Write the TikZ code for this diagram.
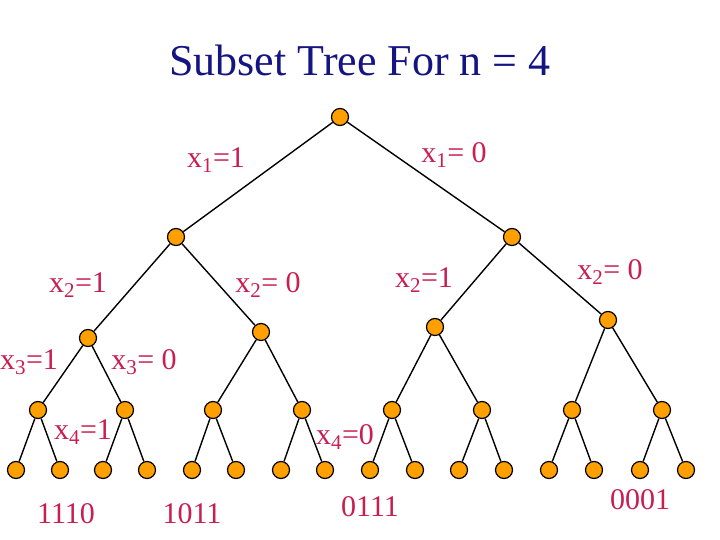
\documentclass[tikz,border=0pt]{standalone}
\usepackage{fontspec}
\setmainfont{Liberation Serif}
\definecolor{labred}{RGB}{200,30,80}
\definecolor{titleblue}{RGB}{20,20,130}
\definecolor{dotorange}{RGB}{255,160,0}
\tikzstyle{dot} = [circle, draw=black, fill=dotorange, line width=1.2pt, minimum size=17pt, inner sep=0pt]
\tikzstyle{lab} = [text=labred, font=\fontsize{30}{30}\selectfont]
\tikzstyle{edge} = [line width=1.4pt]

\begin{document}
\begin{tikzpicture}[x=1pt, y=-1pt]
\useasboundingbox (0,0) rectangle (720,540);
\node[text=titleblue, font=\fontsize{44}{44}\selectfont] (title) at (360,60) {Subset Tree For n = 4};
% tree levels
\node (r) [dot] at (340,117) {};
\node (a1) [dot] at (176,237) {};
\node (a0) [dot] at (512,237) {};
\node (b11) [dot] at (88,338) {};
\node (b10) [dot] at (261,332) {};
\node (b01) [dot] at (435,327) {};
\node (b00) [dot] at (608,320) {};
\foreach \i/\x in {1/38,2/125,3/213,4/302,5/392,6/482,7/572,8/662}
  \node (c\i) [dot] at (\x,410) {};
\foreach \i/\x in {1/16,2/60,3/103,4/147,5/192,6/236,7/281,8/325,9/370,10/415,11/459,12/504,13/549,14/594,15/640,16/686}
  \node (d\i) [dot] at (\x,470) {};
\draw [edge] (r) -- (a1);
\draw [edge] (r) -- (a0);
\draw [edge] (a1) -- (b11);
\draw [edge] (a1) -- (b10);
\draw [edge] (a0) -- (b01);
\draw [edge] (a0) -- (b00);
\draw [edge] (b11) -- (c1); \draw [edge] (b11) -- (c2);
\draw [edge] (b10) -- (c3); \draw [edge] (b10) -- (c4);
\draw [edge] (b01) -- (c5); \draw [edge] (b01) -- (c6);
\draw [edge] (b00) -- (c7); \draw [edge] (b00) -- (c8);
\foreach \i [evaluate=\i as \j using int(2*\i-1), evaluate=\i as \k using int(2*\i)] in {1,...,8} {
  \draw [edge] (c\i) -- (d\j);
  \draw [edge] (c\i) -- (d\k);
}
% labels
\node (l1a) [lab] at (216,160) {x\textsubscript{1}=1};
\node (l1b) [lab] at (454,155) {x\textsubscript{1}= 0};
\node (l2a) [lab] at (78,285) {x\textsubscript{2}=1};
\node (l2b) [lab] at (268,285) {x\textsubscript{2}= 0};
\node (l2c) [lab] at (424,280) {x\textsubscript{2}=1};
\node (l2d) [lab] at (610,272) {x\textsubscript{2}= 0};
\node (l3a) [lab] at (29,362) {x\textsubscript{3}=1};
\node (l3b) [lab] at (144,362) {x\textsubscript{3}= 0};
\node (l4a) [lab] at (83,432) {x\textsubscript{4}=1};
\node (l4b) [lab] at (345,437) {x\textsubscript{4}=0};
\node (s1) [lab] at (66,514) {1110};
\node (s2) [lab] at (192,514) {1011};
\node (s3) [lab] at (370,507) {0111};
\node (s4) [lab] at (640,500) {0001};
\end{tikzpicture}
\end{document}
